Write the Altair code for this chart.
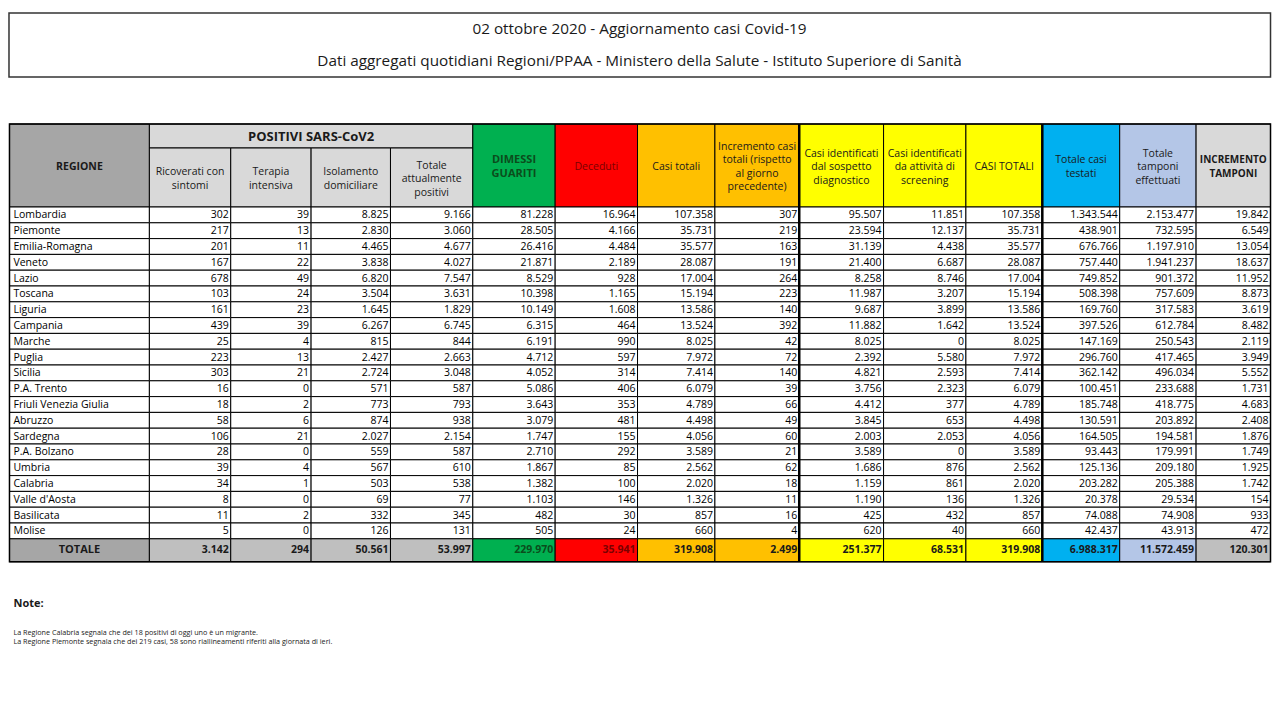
import altair as alt
import pandas as pd

# ---------------- data ----------------
regions = ["Lombardia", "Piemonte", "Emilia-Romagna", "Veneto", "Lazio", "Toscana", "Liguria",
           "Campania", "Marche", "Puglia", "Sicilia", "P.A. Trento", "Friuli Venezia Giulia",
           "Abruzzo", "Sardegna", "P.A. Bolzano", "Umbria", "Calabria", "Valle d'Aosta",
           "Basilicata", "Molise"]
ricoverati = [302, 217, 201, 167, 678, 103, 161, 439, 25, 223, 303, 16, 18, 58, 106, 28, 39, 34, 8, 11, 5]
terapia = [39, 13, 11, 22, 49, 24, 23, 39, 4, 13, 21, 0, 2, 6, 21, 0, 4, 1, 0, 2, 0]
isolamento = [8825, 2830, 4465, 3838, 6820, 3504, 1645, 6267, 815, 2427, 2724, 571, 773, 874, 2027,
              559, 567, 503, 69, 332, 126]
tot_positivi = [9166, 3060, 4677, 4027, 7547, 3631, 1829, 6745, 844, 2663, 3048, 587, 793, 938, 2154,
                587, 610, 538, 77, 345, 131]
dimessi = [81228, 28505, 26416, 21871, 8529, 10398, 10149, 6315, 6191, 4712, 4052, 5086, 3643, 3079,
           1747, 2710, 1867, 1382, 1103, 482, 505]
deceduti = [16964, 4166, 4484, 2189, 928, 1165, 1608, 464, 990, 597, 314, 406, 353, 481, 155, 292,
            85, 100, 146, 30, 24]
casi_totali = [107358, 35731, 35577, 28087, 17004, 15194, 13586, 13524, 8025, 7972, 7414, 6079, 4789,
               4498, 4056, 3589, 2562, 2020, 1326, 857, 660]
incremento_casi = [307, 219, 163, 191, 264, 223, 140, 392, 42, 72, 140, 39, 66, 49, 60, 21, 62, 18,
                   11, 16, 4]
sospetto = [95507, 23594, 31139, 21400, 8258, 11987, 9687, 11882, 8025, 2392, 4821, 3756, 4412, 3845,
            2003, 3589, 1686, 1159, 1190, 425, 620]
screening = [11851, 12137, 4438, 6687, 8746, 3207, 3899, 1642, 0, 5580, 2593, 2323, 377, 653, 2053,
             0, 876, 861, 136, 432, 40]
casi_totali2 = [107358, 35731, 35577, 28087, 17004, 15194, 13586, 13524, 8025, 7972, 7414, 6079, 4789,
                4498, 4056, 3589, 2562, 2020, 1326, 857, 660]
testati = [1343544, 438901, 676766, 757440, 749852, 508398, 169760, 397526, 147169, 296760, 362142,
           100451, 185748, 130591, 164505, 93443, 125136, 203282, 20378, 74088, 42437]
tamponi = [2153477, 732595, 1197910, 1941237, 901372, 757609, 317583, 612784, 250543, 417465, 496034,
           233688, 418775, 203892, 194581, 179991, 209180, 205388, 29534, 74908, 43913]
incremento_tamponi = [19842, 6549, 13054, 18637, 11952, 8873, 3619, 8482, 2119, 3949, 5552, 1731,
                      4683, 2408, 1876, 1749, 1925, 1742, 154, 933, 472]
totali = [3142, 294, 50561, 53997, 229970, 35941, 319908, 2499, 251377, 68531, 319908, 6988317,
          11572459, 120301]

headers = ["Ricoverati con\nsintomi", "Terapia\nintensiva", "Isolamento\ndomiciliare",
           "Totale\nattualmente\npositivi", "DIMESSI\nGUARITI", "Deceduti", "Casi totali",
           "Incremento casi\ntotali (rispetto\nal giorno\nprecedente)",
           "Casi identificati\ndal sospetto\ndiagnostico", "Casi identificati\nda attività di\nscreening",
           "CASI TOTALI", "Totale casi\ntestati", "Totale\ntamponi\neffettuati", "INCREMENTO\nTAMPONI"]
title1 = "02 ottobre 2020 - Aggiornamento casi Covid-19"
title2 = "Dati aggregati quotidiani Regioni/PPAA - Ministero della Salute - Istituto Superiore di Sanità"
notes = ["La Regione Calabria segnala che dei 18 positivi di oggi uno è un migrante.",
         "La Regione Piemonte segnala che dei 219 casi, 58 sono riallineamenti riferiti alla giornata di ieri."]

series = [ricoverati, terapia, isolamento, tot_positivi, dimessi, deceduti, casi_totali,
          incremento_casi, sospetto, screening, casi_totali2, testati, tamponi, incremento_tamponi]

# ---------------- layout / style ----------------
col_edges = [6, 147, 229, 310, 390, 473, 556, 639, 717, 802, 887, 970, 1047, 1125, 1202, 1277]
hdr_top, hdr_mid, hdr_bot = 124, 148, 207
row_h = 15.8
tot_h = 23
LH = 13.5
head_fill = ["#D9D9D9", "#D9D9D9", "#D9D9D9", "#D9D9D9", "#00B050", "#FF0000", "#FFC000", "#FFC000",
             "#FFFF00", "#FFFF00", "#FFFF00", "#00B0F0", "#B4C6E7", "#D9D9D9"]
tot_fill = ["#BFBFBF", "#BFBFBF", "#BFBFBF", "#BFBFBF", "#00B050", "#FF0000", "#FFC000", "#FFC000",
            "#FFFF00", "#FFFF00", "#FFFF00", "#00B0F0", "#B4C6E7", "#BFBFBF"]
head_color = ["#1A1A1A"] * 4 + ["#0B4D1C", "#7A0000"] + ["#1A1A1A"] * 8
tot_color = ["#1A1A1A"] * 4 + ["#0B4D1C", "#7A0000"] + ["#1A1A1A"] * 8
head_bold = [False] * 4 + [True] + [False] * 8 + [True]
head_size = [10.5] * 4 + [11] + [10.5] * 8 + [10]

FONT = "Open Sans"


def fmt(v):
    return f"{v:,}".replace(",", ".")


def block_y(center, label):
    n = label.count("\n") + 1
    return center - (n - 1) / 2 * LH


rects = []
texts = []

# header
rects.append(dict(x=col_edges[0], x2=col_edges[1], y=hdr_top, y2=hdr_bot, fill="#A6A6A6"))
texts.append(dict(x=(col_edges[0] + col_edges[1]) / 2, y=(hdr_top + hdr_bot) / 2 + 1, label="REGIONE",
                  al="center", bold=True, color="#1A1A1A", size=10.5))
rects.append(dict(x=col_edges[1], x2=col_edges[5], y=hdr_top, y2=hdr_mid, fill="#D9D9D9"))
texts.append(dict(x=(col_edges[1] + col_edges[5]) / 2, y=(hdr_top + hdr_mid) / 2 + 0.5,
                  label="POSITIVI SARS-CoV2", al="center", bold=True, color="#1A1A1A", size=13))
for j, h in enumerate(headers):
    x0, x1 = col_edges[j + 1], col_edges[j + 2]
    top = hdr_mid if j < 4 else hdr_top
    texts.append(dict(x=(x0 + x1) / 2, y=block_y((top + hdr_bot) / 2 + 1.5, h), label=h, al="center",
                      bold=head_bold[j], color=head_color[j], size=head_size[j]))
    rects.append(dict(x=x0, x2=x1, y=top, y2=hdr_bot, fill=head_fill[j]))

# body
for i, r in enumerate(regions):
    y0 = hdr_bot + i * row_h
    y1 = y0 + row_h
    rects.append(dict(x=col_edges[0], x2=col_edges[1], y=y0, y2=y1, fill="#FFFFFF"))
    texts.append(dict(x=col_edges[0] + 4, y=(y0 + y1) / 2 + 0.5, label=r, al="left", bold=False,
                      color="#000000", size=10.5))
    for j, s in enumerate(series):
        x0, x1 = col_edges[j + 1], col_edges[j + 2]
        rects.append(dict(x=x0, x2=x1, y=y0, y2=y1, fill="#FFFFFF"))
        texts.append(dict(x=x1 - 2, y=(y0 + y1) / 2 + 0.5, label=fmt(s[i]), al="right", bold=False,
                          color="#000000", size=10.5))

# total row
ty0 = hdr_bot + len(regions) * row_h
ty1 = ty0 + tot_h
rects.append(dict(x=col_edges[0], x2=col_edges[1], y=ty0, y2=ty1, fill="#A6A6A6"))
texts.append(dict(x=(col_edges[0] + col_edges[1]) / 2, y=(ty0 + ty1) / 2, label="TOTALE",
                  al="center", bold=True, color="#1A1A1A", size=11))
for j, v in enumerate(totali):
    x0, x1 = col_edges[j + 1], col_edges[j + 2]
    rects.append(dict(x=x0, x2=x1, y=ty0, y2=ty1, fill=tot_fill[j]))
    texts.append(dict(x=x1 - 2, y=(ty0 + ty1) / 2, label=fmt(v), al="right", bold=True,
                      color=tot_color[j], size=10.5))

rect_df = pd.DataFrame(rects)
text_df = pd.DataFrame(texts)

xs = alt.Scale(domain=[4.5, 1278.5], nice=False, zero=False)
ys = alt.Scale(domain=[8, 720], nice=False, zero=False, reverse=True)


def X(f):
    return alt.X(f, type="quantitative", scale=xs, axis=None)


def Y(f):
    return alt.Y(f, type="quantitative", scale=ys, axis=None)


cells = alt.Chart(rect_df).mark_rect(stroke="#000", strokeWidth=1).encode(
    x=X("x"), x2="x2", y=Y("y"), y2="y2", fill=alt.Fill("fill:N", scale=None))

title_box = alt.Chart(pd.DataFrame([dict(x=5.5, x2=1277, y=13, y2=77)])).mark_rect(
    fill="#FFFFFF", stroke="#333", strokeWidth=1.5).encode(x=X("x"), x2="x2", y=Y("y"), y2="y2")

thick = alt.Chart(pd.DataFrame([dict(x=col_edges[9], y=hdr_top, y2=ty1),
                                dict(x=col_edges[12], y=hdr_top, y2=ty1)])).mark_rule(
    color="#000", strokeWidth=2.5).encode(x=X("x"), y=Y("y"), y2="y2")

outline = alt.Chart(pd.DataFrame([dict(x=col_edges[0], x2=col_edges[-1], y=hdr_top, y2=ty1)])).mark_rect(
    fill=None, stroke="#000", strokeWidth=1.5).encode(x=X("x"), x2="x2", y=Y("y"), y2="y2")

text_layers = []
for al in ["left", "center", "right"]:
    for bold in [False, True]:
        sub = text_df[(text_df["al"] == al) & (text_df["bold"] == bold)]
        for size in sorted(sub["size"].unique()):
            d = sub[sub["size"] == size][["x", "y", "label", "color"]]
            text_layers.append(
                alt.Chart(d).mark_text(align=al, baseline="middle", font=FONT, fontSize=float(size),
                                       fontWeight="bold" if bold else "normal", lineBreak="\n",
                                       lineHeight=LH).encode(
                    x=X("x"), y=Y("y"), text="label:N", color=alt.Color("color:N", scale=None)))

titles = alt.Chart(pd.DataFrame([dict(x=641, y=29, label=title1), dict(x=641, y=61, label=title2)])).mark_text(
    align="center", baseline="middle", font=FONT, fontSize=15.3, color="#1A1A1A").encode(
    x=X("x"), y=Y("y"), text="label:N")

note_head = alt.Chart(pd.DataFrame([dict(x=10, y=604, label="Note:")])).mark_text(
    align="left", baseline="middle", font=FONT, fontSize=11, fontWeight="bold", color="#1A1A1A").encode(
    x=X("x"), y=Y("y"), text="label:N")

note_lines = alt.Chart(pd.DataFrame([dict(x=10, y=632.5, label=notes[0]), dict(x=10, y=641.5, label=notes[1])])).mark_text(
    align="left", baseline="middle", font=FONT, fontSize=7.2, color="#1A1A1A").encode(
    x=X("x"), y=Y("y"), text="label:N")

chart = alt.layer(title_box, cells, thick, outline, *text_layers, titles, note_head, note_lines).properties(
    width=1264, height=712, padding=0, autosize=alt.AutoSizeParams(type="none")
).configure_view(stroke=None)

chart.save("out.html", embed_options={"renderer": "svg", "actions": False})
